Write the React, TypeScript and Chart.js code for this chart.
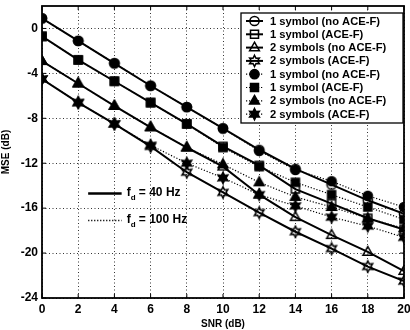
import React, { useEffect, useRef } from 'react';
import { Chart, registerables } from 'chart.js';

Chart.register(...registerables);

// ---- data ----
const snr = [0, 2, 4, 6, 8, 10, 12, 14, 16, 18, 20];
const yTickValues = [0, -4, -8, -12, -16, -20, -24];

const seriesLabels = [
  '1 symbol (no ACE-F)',
  '1 symbol (ACE-F)',
  '2 symbols (no ACE-F)',
  '2 symbols (ACE-F)',
  '1 symbol (no ACE-F)',
  '1 symbol (ACE-F)',
  '2 symbols (no ACE-F)',
  '2 symbols (ACE-F)',
];

// fd = 40 Hz (solid, open markers)
const oneNoAce40 = [0.9, -1.1, -3.1, -5.1, -7.0, -8.9, -10.8, -12.5, -13.9, -15.3, -16.5];
const oneAce40 = [-0.7, -2.8, -4.7, -6.6, -8.5, -10.5, -12.2, -14.3, -15.6, -16.9, -17.9];
const twoNoAce40 = [-2.9, -4.9, -6.9, -8.8, -10.6, -12.3, -14.8, -16.8, -18.4, -19.9, -21.6];
const twoAce40 = [-4.5, -6.6, -8.5, -10.5, -12.8, -14.6, -16.4, -18.1, -19.6, -21.2, -22.5];

// fd = 100 Hz (dotted, filled markers)
const oneNoAce100 = [0.9, -1.1, -3.1, -5.1, -7.0, -8.9, -10.9, -12.6, -13.6, -14.9, -15.9];
const oneAce100 = [-0.7, -2.8, -4.7, -6.6, -8.5, -10.6, -12.3, -13.7, -14.8, -15.9, -17.0];
const twoNoAce100 = [-2.9, -4.9, -6.9, -8.8, -10.6, -12.1, -13.7, -15.0, -15.9, -16.9, -17.8];
const twoAce100 = [-4.5, -6.6, -8.5, -10.4, -12.0, -13.3, -14.8, -15.8, -16.8, -17.6, -18.6];

const dopplerLabels = ['40 Hz', '100 Hz'];

const FONT = "'Liberation Sans', Arial, sans-serif";

type Kind = 'circle' | 'square' | 'triangle' | 'star';

function drawMarker(ctx: CanvasRenderingContext2D, kind: Kind, filled: boolean, cx: number, cy: number) {
  ctx.save();
  ctx.setLineDash([]);
  ctx.strokeStyle = '#000';
  ctx.fillStyle = '#000';
  ctx.lineWidth = 1.5;
  ctx.beginPath();
  if (kind === 'circle') {
    ctx.arc(cx, cy, 4.6, 0, Math.PI * 2);
  } else if (kind === 'square') {
    ctx.rect(cx - 4, cy - 4, 8, 8);
  } else if (kind === 'triangle') {
    ctx.moveTo(cx, cy - 5.4);
    ctx.lineTo(cx + 4.9, cy + 3.2);
    ctx.lineTo(cx - 4.9, cy + 3.2);
    ctx.closePath();
  } else {
    const n = 6;
    for (let i = 0; i < n * 2; i++) {
      const r = i % 2 === 0 ? 5.6 : 3.0;
      const ang = -Math.PI / 2 + (i * Math.PI) / n;
      const px = cx + r * Math.cos(ang);
      const py = cy + r * Math.sin(ang);
      if (i === 0) ctx.moveTo(px, py);
      else ctx.lineTo(px, py);
    }
    ctx.closePath();
  }
  if (filled) ctx.fill();
  ctx.stroke();
  ctx.restore();
}

function markerImage(kind: Kind, filled: boolean): HTMLCanvasElement {
  const c = document.createElement('canvas');
  c.width = 16;
  c.height = 16;
  const ctx = c.getContext('2d')!;
  drawMarker(ctx, kind, filled, 8, 8);
  return c;
}

const kinds: Kind[] = ['circle', 'square', 'triangle', 'star', 'circle', 'square', 'triangle', 'star'];
const seriesValues = [oneNoAce40, oneAce40, twoNoAce40, twoAce40, oneNoAce100, oneAce100, twoNoAce100, twoAce100];

const decorPlugin = {
  id: 'decor',
  afterDraw(chart: any) {
    const { ctx, chartArea: a, scales } = chart;
    const xs = scales.x;
    const ys = scales.y;
    ctx.save();
    // axes box
    ctx.setLineDash([]);
    ctx.strokeStyle = '#000';
    ctx.lineWidth = 1.8;
    ctx.strokeRect(a.left, a.top, a.right - a.left, a.bottom - a.top);
    // inward tick marks
    ctx.lineWidth = 1;
    ctx.beginPath();
    for (const v of snr) {
      const px = xs.getPixelForValue(v);
      ctx.moveTo(px, a.bottom);
      ctx.lineTo(px, a.bottom - 4);
      ctx.moveTo(px, a.top);
      ctx.lineTo(px, a.top + 4);
    }
    for (const v of yTickValues) {
      const py = ys.getPixelForValue(v);
      ctx.moveTo(a.left, py);
      ctx.lineTo(a.left + 4, py);
      ctx.moveTo(a.right, py);
      ctx.lineTo(a.right - 4, py);
    }
    ctx.stroke();

    // legend
    const datasets = chart.data.datasets;
    const lw = 162;
    const lh = 110;
    const lx = a.right - 1 - lw;
    const ly = a.top + 7;
    ctx.fillStyle = '#fff';
    ctx.fillRect(lx, ly, lw, lh);
    ctx.strokeStyle = '#000';
    ctx.lineWidth = 1.3;
    ctx.strokeRect(lx, ly, lw, lh);
    ctx.font = `bold 11.2px ${FONT}`;
    ctx.textBaseline = 'middle';
    ctx.textAlign = 'left';
    datasets.forEach((ds: any, i: number) => {
      const y = ly + 8 + i * 13.3;
      ctx.save();
      ctx.strokeStyle = '#000';
      ctx.lineWidth = ds.borderWidth;
      ctx.setLineDash(ds.borderDash || []);
      ctx.beginPath();
      ctx.moveTo(lx + 5, y);
      ctx.lineTo(lx + 22, y);
      ctx.stroke();
      ctx.restore();
      drawMarker(ctx, kinds[i], i >= 4, lx + 13.5, y);
      ctx.fillStyle = '#000';
      ctx.fillText(ds.label, lx + 29, y + 0.5);
    });

    // doppler annotation
    const drawFd = (yv: number, dash: number[], text: string, lwidth: number) => {
      const x1 = xs.getPixelForValue(2.55);
      const x2 = xs.getPixelForValue(4.4);
      const y = ys.getPixelForValue(yv);
      ctx.save();
      ctx.strokeStyle = '#000';
      ctx.lineWidth = lwidth;
      ctx.setLineDash(dash);
      ctx.beginPath();
      ctx.moveTo(x1, y);
      ctx.lineTo(x2, y);
      ctx.stroke();
      ctx.restore();
      ctx.fillStyle = '#000';
      ctx.textBaseline = 'alphabetic';
      let tx = x2 + 5;
      ctx.font = `bold 12px ${FONT}`;
      ctx.fillText('f', tx, y + 2);
      tx += ctx.measureText('f').width;
      ctx.font = `bold 8px ${FONT}`;
      ctx.fillText('d', tx, y + 6);
      tx += ctx.measureText('d').width;
      ctx.font = `bold 12px ${FONT}`;
      ctx.fillText(' = ' + text, tx, y + 2);
    };
    drawFd(-14.7, [], dopplerLabels[0], 2.4);
    drawFd(-17.1, [1.2, 1.8], dopplerLabels[1], 1.3);
    ctx.restore();
  },
};

export default function App() {
  const ref = useRef<HTMLCanvasElement | null>(null);
  useEffect(() => {
    if (!ref.current) return;
    const datasets = seriesValues.map((vals, i) => {
      const dotted = i >= 4;
      return {
        label: seriesLabels[i],
        data: vals,
        borderColor: '#000',
        backgroundColor: '#000',
        borderWidth: dotted ? 1.2 : 2,
        borderDash: dotted ? [1.2, 1.8] : [],
        pointStyle: markerImage(kinds[i], dotted),
        pointRadius: 4,
        tension: 0,
        fill: false,
      };
    });
    const chart = new Chart(ref.current, {
      type: 'line',
      data: { labels: snr, datasets },
      options: {
        animation: false,
        responsive: false,
        maintainAspectRatio: false,
        layout: { padding: { top: 5, right: 5, left: 0, bottom: 0 } },
        plugins: { legend: { display: false }, tooltip: { enabled: false } },
        scales: {
          x: {
            type: 'linear',
            min: 0,
            max: 20,
            grid: { color: '#000', lineWidth: 0.8, drawTicks: false },
            border: { display: false, dash: [1, 2.5] },
            ticks: {
              stepSize: 2,
              color: '#000',
              padding: 4,
              maxRotation: 0,
              autoSkip: false,
              font: { family: FONT, size: 12, weight: 'bold' },
            },
            title: {
              display: true,
              text: 'SNR (dB)',
              color: '#000',
              padding: { top: 0, bottom: 0 },
              font: { family: FONT, size: 10, weight: 'bold' },
            },
            afterFit: (s: any) => {
              s.height = 32;
              s.paddingLeft = 0;
              s.paddingRight = 0;
            },
          },
          y: {
            type: 'linear',
            min: -24,
            max: 2,
            grid: { color: '#000', lineWidth: 0.8, drawTicks: false },
            border: { display: false, dash: [1, 2.5] },
            ticks: {
              stepSize: 4,
              includeBounds: false,
              color: '#000',
              padding: 4,
              font: { family: FONT, size: 12, weight: 'bold' },
            },
            title: {
              display: true,
              text: 'MSE (dB)',
              color: '#000',
              padding: { top: 0, bottom: 0 },
              font: { family: FONT, size: 10, weight: 'bold' },
            },
            afterFit: (s: any) => {
              s.width = 42;
              s.paddingTop = 0;
              s.paddingBottom = 0;
            },
          },
        },
      },
      plugins: [decorPlugin],
    });
    return () => chart.destroy();
  }, []);
  return (
    <div style={{ position: 'fixed', left: 0, top: 0, width: 410, height: 330, background: '#fff' }}>
      <canvas ref={ref} width={410} height={330} style={{ width: 410, height: 330, display: 'block' }} />
    </div>
  );
}
